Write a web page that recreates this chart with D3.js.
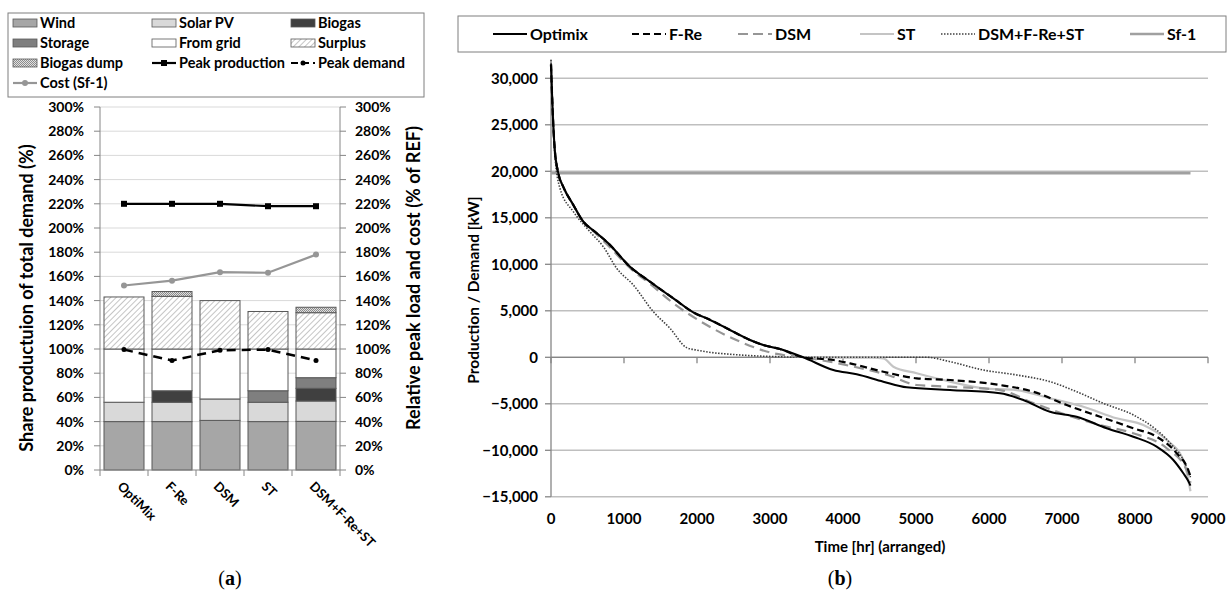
<!DOCTYPE html>
<html><head><meta charset="utf-8">
<script src="https://cdn.jsdelivr.net/npm/d3@7"></script>
<style>
body{margin:0;background:#fff;}
text{font-family:Lato,"Open Sans",sans-serif;font-weight:bold;fill:#000;}
</style></head>
<body><svg id="c" width="1227" height="599"></svg>
<script>
// ---------- data: panel (a) ----------
const scenarios = ["OptiMix","F-Re","DSM","ST","DSM+F-Re+ST"];
const wind = [40, 40, 41, 40, 40.2];
const solarPV = [16, 16, 17.7, 16, 16.8];
const biogas = [0, 9.5, 0, 0, 10.5];
const storage = [0, 0, 0, 9.5, 8.8];
const fromGrid = [44, 34.5, 41.3, 34.5, 23.7];
const surplus = [43, 43.5, 40, 31, 30];
const biogasDump = [0, 4, 0, 0, 4.5];
const peakProduction = [220, 220, 220, 218, 218];
const peakDemand = [99.5, 90.5, 99, 99.5, 90.5];
const costSf1 = [152.5, 156.5, 163.5, 163, 178];
const pctTicks = [0,20,40,60,80,100,120,140,160,180,200,220,240,260,280,300];

// ---------- data: panel (b) ----------
const optimixHours = [0,20,50,100,170,306,443,603,785,1082,1356,1676,1973,2133,2407,2726,2908,3137,3456,3867,4188,4552,4872,5466,6151,6470,6836,7201,7612,7977,8297,8525,8662,8730,8760];
const optimixKW    = [31500,27000,22500,19800,18300,16380,14580,13500,12260,9740,8130,6340,4730,4190,3120,1860,1320,890,0,-1370,-1830,-2620,-3230,-3520,-3870,-4590,-5850,-6390,-7630,-8540,-9610,-11040,-12470,-13300,-13800];
const fReHours = [0,20,50,100,170,306,443,603,785,1082,1356,1676,1973,2133,2407,2726,2908,3137,3456,3867,4096,4552,5009,5466,6151,6607,7064,7521,7977,8297,8571,8730,8760];
const fReKW    = [31500,27000,22500,19800,18300,16380,14580,13500,12260,9740,8130,6340,4730,4190,3120,1860,1320,890,0,-290,-650,-1550,-2260,-2440,-2980,-3700,-5130,-6390,-7630,-8540,-10320,-12120,-12800];
const dsmHours = [0,20,50,100,170,306,443,603,785,1082,1356,1676,2133,2589,3046,3456,4142,4644,5009,5466,6151,6607,7064,7521,7977,8434,8708,8760];
const dsmKW    = [31500,27000,22500,19800,18300,16380,14580,13400,12000,9600,7900,5810,3470,1680,430,0,-1000,-1980,-2980,-3160,-3520,-4920,-6200,-7280,-8170,-9780,-12120,-13500];
const stHours = [0,20,50,100,170,306,443,603,785,1082,1356,1676,1973,2133,2407,2726,2908,3137,3456,4400,4552,4690,5009,5466,5922,6379,6836,7292,7749,8114,8434,8662,8760];
const stKW    = [31500,27000,22500,19800,18300,16380,14580,13500,12260,9740,8130,6340,4730,4190,3120,1860,1320,890,0,-50,-110,-1010,-1720,-2620,-3340,-3520,-4410,-5310,-6560,-7280,-8890,-11040,-14400];
const comboHours = [0,20,50,123,306,534,717,900,1128,1402,1630,1858,1995,2589,3046,3456,5146,5466,5922,6379,6836,7201,7566,7977,8297,8525,8662,8760];
const comboKW    = [32000,27500,22000,18170,15660,13500,11890,9570,7770,4900,3120,1040,780,250,80,0,0,-470,-1370,-1900,-2620,-3700,-4950,-6200,-7820,-9610,-11040,-12900];
const sf1Hours = [0, 8760];
const sf1KW = [19800, 19800];
const kwTicks = [-15000,-10000,-5000,0,5000,10000,15000,20000,25000,30000];
const hourTicks = [0,1000,2000,3000,4000,5000,6000,7000,8000,9000];

const svg = d3.select("#c");
const defs = svg.append("defs");
const hatch = defs.append("pattern").attr("id","hatch").attr("patternUnits","userSpaceOnUse")
  .attr("width",4).attr("height",4).attr("patternTransform","rotate(45)");
hatch.append("rect").attr("width",4).attr("height",4).attr("fill","#fff");
hatch.append("line").attr("x1",0).attr("y1",0).attr("x2",0).attr("y2",4).attr("stroke","#a6a6a6").attr("stroke-width",1.3);
const dots = defs.append("pattern").attr("id","dots").attr("patternUnits","userSpaceOnUse")
  .attr("width",2).attr("height",2);
dots.append("rect").attr("width",2).attr("height",2).attr("fill","#e0e0e0");
dots.append("rect").attr("width",1).attr("height",1).attr("fill","#8c8c8c");
dots.append("rect").attr("x",1).attr("y",1).attr("width",1).attr("height",1).attr("fill","#8c8c8c");

// ================= Panel (a) =================
const xA = d3.scaleBand().domain(scenarios).range([100,340]).paddingInner(1/6).paddingOuter(1/12);
const yA = d3.scaleLinear().domain([0,300]).range([470,107]);
const gA = svg.append("g");

// gridlines
gA.selectAll(".g").data(pctTicks.slice(1)).enter().append("line")
  .attr("x1",100).attr("x2",340).attr("y1",d=>yA(d)).attr("y2",d=>yA(d))
  .attr("stroke","#d9d9d9").attr("stroke-width",1);

const layers = [
  {name:"Wind", vals:wind, fill:"#a6a6a6"},
  {name:"Solar PV", vals:solarPV, fill:"#d9d9d9"},
  {name:"Biogas", vals:biogas, fill:"#404040"},
  {name:"Storage", vals:storage, fill:"#7f7f7f"},
  {name:"From grid", vals:fromGrid, fill:"#ffffff"},
  {name:"Surplus", vals:surplus, fill:"url(#hatch)"},
  {name:"Biogas dump", vals:biogasDump, fill:"url(#dots)"}
];
const table = scenarios.map((s,i)=>{const o={s}; layers.forEach(l=>o[l.name]=l.vals[i]); return o;});
const stack = d3.stack().keys(layers.map(l=>l.name))(table);
stack.forEach((ser,li)=>{
  gA.selectAll(null).data(ser.filter(d=>d[1]-d[0]>0)).enter().append("rect")
    .attr("x",d=>xA(d.data.s)).attr("width",xA.bandwidth())
    .attr("y",d=>yA(d[1])).attr("height",d=>yA(d[0])-yA(d[1]))
    .attr("fill",layers[li].fill).attr("stroke","#595959").attr("stroke-width",1);
});

// axes
const axA = gA.append("g").attr("stroke","#868686").attr("stroke-width",1);
axA.append("line").attr("x1",100).attr("x2",100).attr("y1",107).attr("y2",470);
axA.append("line").attr("x1",340).attr("x2",340).attr("y1",107).attr("y2",470);
axA.append("line").attr("x1",100).attr("x2",340).attr("y1",470).attr("y2",470);
pctTicks.forEach(t=>{
  axA.append("line").attr("x1",94).attr("x2",100).attr("y1",yA(t)).attr("y2",yA(t));
  axA.append("line").attr("x1",340).attr("x2",346).attr("y1",yA(t)).attr("y2",yA(t));
});
const bounds = scenarios.map(s=>xA(s)-xA.step()*xA.paddingInner()/2).concat([340]);
bounds[0]=100;
bounds.forEach(b=>axA.append("line").attr("x1",b).attr("x2",b).attr("y1",470).attr("y2",476));

gA.selectAll(".tl").data(pctTicks).enter().append("text")
  .attr("x",84).attr("y",d=>yA(d)).attr("dy","0.35em").attr("text-anchor","end")
  .attr("font-size",14).text(d=>d+"%");
gA.selectAll(".tr").data(pctTicks).enter().append("text")
  .attr("x",355).attr("y",d=>yA(d)).attr("dy","0.35em").attr("text-anchor","start")
  .attr("font-size",14).text(d=>d+"%");
gA.selectAll(".xl").data(scenarios).enter().append("text")
  .attr("transform",d=>`translate(${xA(d)+xA.bandwidth()/2-4},${484}) rotate(45)`)
  .attr("font-size",13).attr("dy","0.35em").text(d=>d);

gA.append("text").attr("transform","translate(33,298) rotate(-90)").attr("text-anchor","middle")
  .attr("font-size",18).text("Share productuion of total demand (%)");
gA.append("text").attr("transform","translate(420,278) rotate(-90)").attr("text-anchor","middle")
  .attr("font-size",18).text("Relative peak load and cost (% of REF)");

// lines
const cx = s=>xA(s)+xA.bandwidth()/2;
const lineA = d3.line().x(d=>cx(d.s)).y(d=>yA(d.v));
const mk = arr=>scenarios.map((s,i)=>({s,v:arr[i]}));
gA.append("path").attr("d",lineA(mk(costSf1))).attr("fill","none").attr("stroke","#969696").attr("stroke-width",2.2);
gA.selectAll(".cm").data(mk(costSf1)).enter().append("circle").attr("cx",d=>cx(d.s)).attr("cy",d=>yA(d.v)).attr("r",3).attr("fill","#969696");
gA.append("path").attr("d",lineA(mk(peakProduction))).attr("fill","none").attr("stroke","#000").attr("stroke-width",2.2);
gA.selectAll(".pm").data(mk(peakProduction)).enter().append("rect").attr("x",d=>cx(d.s)-3).attr("y",d=>yA(d.v)-3).attr("width",6).attr("height",6).attr("fill","#000");
gA.append("path").attr("d",lineA(mk(peakDemand))).attr("fill","none").attr("stroke","#000").attr("stroke-width",2.5).attr("stroke-dasharray","9,6");
gA.selectAll(".dm").data(mk(peakDemand)).enter().append("circle").attr("cx",d=>cx(d.s)).attr("cy",d=>yA(d.v)).attr("r",2.5).attr("fill","#000");

// legend (a)
const legA = svg.append("g");
legA.append("rect").attr("x",8).attr("y",13).attr("width",416).attr("height",84).attr("fill","#fff").attr("stroke","#7f7f7f");
const legItems = [
  {t:"Wind",type:"box",fill:"#a6a6a6",c:0,r:0},
  {t:"Solar PV",type:"box",fill:"#d9d9d9",c:1,r:0},
  {t:"Biogas",type:"box",fill:"#404040",c:2,r:0},
  {t:"Storage",type:"box",fill:"#7f7f7f",c:0,r:1},
  {t:"From grid",type:"box",fill:"#fff",c:1,r:1},
  {t:"Surplus",type:"box",fill:"url(#hatch)",c:2,r:1},
  {t:"Biogas dump",type:"box",fill:"url(#dots)",c:0,r:2},
  {t:"Peak production",type:"prod",c:1,r:2},
  {t:"Peak demand",type:"dem",c:2,r:2},
  {t:"Cost (Sf-1)",type:"cost",c:0,r:3}
];
const colX=[13,152,291], rowY=[23,43,63,83];
legItems.forEach(it=>{
  const x=colX[it.c], y=rowY[it.r];
  if(it.type==="box"){
    legA.append("rect").attr("x",x).attr("y",y-4).attr("width",24).attr("height",8).attr("fill",it.fill).attr("stroke","#595959").attr("stroke-width",0.8);
  } else if(it.type==="prod"){
    legA.append("line").attr("x1",x).attr("x2",x+24).attr("y1",y).attr("y2",y).attr("stroke","#000").attr("stroke-width",2.2);
    legA.append("rect").attr("x",x+9).attr("y",y-3).attr("width",6).attr("height",6).attr("fill","#000");
  } else if(it.type==="dem"){
    legA.append("line").attr("x1",x).attr("x2",x+24).attr("y1",y).attr("y2",y).attr("stroke","#000").attr("stroke-width",2.2).attr("stroke-dasharray","7,4");
    legA.append("circle").attr("cx",x+12).attr("cy",y).attr("r",2.5).attr("fill","#000");
  } else {
    legA.append("line").attr("x1",x).attr("x2",x+24).attr("y1",y).attr("y2",y).attr("stroke","#969696").attr("stroke-width",2.2);
    legA.append("circle").attr("cx",x+12).attr("cy",y).attr("r",3).attr("fill","#969696");
  }
  legA.append("text").attr("x",x+27).attr("y",y).attr("dy","0.36em").attr("font-size",14.5).text(it.t);
});

// ================= Panel (b) =================
const xB = d3.scaleLinear().domain([0,9000]).range([551,1208]);
const yB = d3.scaleLinear().domain([-15000,30000]).range([496.8,78.3]);
const gB = svg.append("g");
gB.selectAll(".gb").data(kwTicks).enter().append("line")
  .attr("x1",551).attr("x2",1208).attr("y1",d=>yB(d)).attr("y2",d=>yB(d))
  .attr("stroke","#bfbfbf").attr("stroke-width",1.5);
const axB = gB.append("g").attr("stroke","#868686").attr("stroke-width",1.3);
axB.append("line").attr("x1",551).attr("x2",551).attr("y1",yB(32000)).attr("y2",yB(-15000));
axB.append("line").attr("x1",551).attr("x2",1208).attr("y1",yB(0)).attr("y2",yB(0));
kwTicks.forEach(t=>axB.append("line").attr("x1",545).attr("x2",551).attr("y1",yB(t)).attr("y2",yB(t)));
hourTicks.forEach(t=>axB.append("line").attr("x1",xB(t)).attr("x2",xB(t)).attr("y1",yB(0)).attr("y2",yB(0)+6));

const fmt = d3.format(",");
gB.selectAll(".yt").data(kwTicks).enter().append("text")
  .attr("x",538).attr("y",d=>yB(d)).attr("dy","0.35em").attr("text-anchor","end")
  .attr("font-size",15).text(d=>fmt(d));
gB.selectAll(".xt").data(hourTicks).enter().append("text")
  .attr("x",d=>xB(d)).attr("y",519).attr("dy","0.35em").attr("text-anchor","middle")
  .attr("font-size",15).text(d=>d);
gB.append("text").attr("x",880).attr("y",547).attr("dy","0.35em").attr("text-anchor","middle")
  .attr("font-size",15).text("Time [hr] (arranged)");
gB.append("text").attr("transform","translate(474,290) rotate(-90)").attr("text-anchor","middle")
  .attr("dy","0.35em").attr("font-size",15.5).text("Production / Demand [kW]");

const seriesB = [
  {name:"Sf-1", h:sf1Hours, v:sf1KW, stroke:"#a0a0a0", w:2.8, dash:null, curve:d3.curveLinear},
  {name:"ST", h:stHours, v:stKW, stroke:"#c4c4c4", w:2.2, dash:null},
  {name:"DSM+F-Re+ST", h:comboHours, v:comboKW, stroke:"#404040", w:1.6, dash:"1.5,1.5"},
  {name:"DSM", h:dsmHours, v:dsmKW, stroke:"#969696", w:2.2, dash:"10,6"},
  {name:"F-Re", h:fReHours, v:fReKW, stroke:"#000", w:2.2, dash:"7,4"},
  {name:"Optimix", h:optimixHours, v:optimixKW, stroke:"#000", w:2, dash:null}
];
seriesB.forEach(s=>{
  const pts = s.h.map((h,i)=>[h,s.v[i]]);
  const ln = d3.line().x(d=>xB(d[0])).y(d=>yB(d[1])).curve(s.curve||d3.curveMonotoneX);
  const p = gB.append("path").attr("d",ln(pts)).attr("fill","none").attr("stroke",s.stroke).attr("stroke-width",s.w);
  if(s.dash) p.attr("stroke-dasharray",s.dash);
});

// legend (b)
const legB = svg.append("g");
legB.append("rect").attr("x",458).attr("y",16).attr("width",768).attr("height",36).attr("fill","#fff").attr("stroke","#7f7f7f");
const legBItems = [
  {t:"Optimix", x:493, stroke:"#000", w:2.2, dash:null},
  {t:"F-Re", x:632, stroke:"#000", w:2.2, dash:"7,4"},
  {t:"DSM", x:738, stroke:"#969696", w:2.2, dash:"10,5"},
  {t:"ST", x:860, stroke:"#c4c4c4", w:2.2, dash:null},
  {t:"DSM+F-Re+ST", x:941, stroke:"#404040", w:1.4, dash:"1.5,1.5"},
  {t:"Sf-1", x:1130, stroke:"#a0a0a0", w:2.5, dash:null}
];
legBItems.forEach(it=>{
  const l = legB.append("line").attr("x1",it.x).attr("x2",it.x+34).attr("y1",34).attr("y2",34).attr("stroke",it.stroke).attr("stroke-width",it.w);
  if(it.dash) l.attr("stroke-dasharray",it.dash);
  legB.append("text").attr("x",it.x+37).attr("y",34).attr("dy","0.36em").attr("font-size",16).text(it.t);
});

// captions
const capA = svg.append("text").attr("x",230).attr("y",578).attr("dy","0.35em").attr("text-anchor","middle")
  .style("font-family","'Liberation Serif','DejaVu Serif',serif").style("font-weight","normal").attr("font-size",20);
capA.append("tspan").text("(");
capA.append("tspan").style("font-weight","bold").text("a");
capA.append("tspan").text(")");
const capB = svg.append("text").attr("x",840).attr("y",578).attr("dy","0.35em").attr("text-anchor","middle")
  .style("font-family","'Liberation Serif','DejaVu Serif',serif").style("font-weight","normal").attr("font-size",20);
capB.append("tspan").text("(");
capB.append("tspan").style("font-weight","bold").text("b");
capB.append("tspan").text(")");
</script></body></html>
